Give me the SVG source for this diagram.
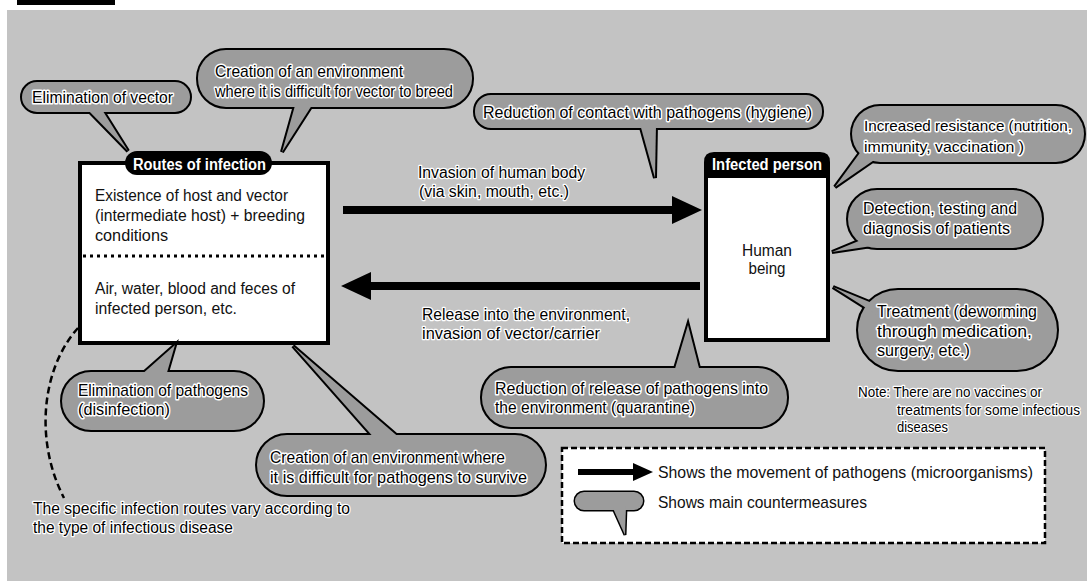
<svg xmlns="http://www.w3.org/2000/svg" xmlns:xlink="http://www.w3.org/1999/xlink" width="1087" height="581" viewBox="0 0 1087 581">
<style>
.bg{fill:#c3c3c3}
.box{fill:#fff;stroke:#000;stroke-width:4}
.hdr{fill:#000}
.ht{font-family:"Liberation Sans",Arial,sans-serif;font-weight:bold;font-size:16px;fill:#fff}
.tx{font-family:"Liberation Sans",Arial,sans-serif;font-size:16px;fill:#111}
.bt{font-family:"Liberation Sans",Arial,sans-serif;font-size:17px;fill:#000;stroke:#fff;stroke-width:3;paint-order:stroke;stroke-linejoin:round}
.gt{font-family:"Liberation Sans",Arial,sans-serif;font-size:16px;fill:#000;stroke:#fff;stroke-width:2.5;paint-order:stroke;stroke-linejoin:round}
.nt{font-family:"Liberation Sans",Arial,sans-serif;font-size:14px;fill:#000;stroke:#fff;stroke-width:2.5;paint-order:stroke;stroke-linejoin:round}
.lt{font-family:"Liberation Sans",Arial,sans-serif;font-size:17px;fill:#111}
.bo{fill:none;stroke:#000;stroke-width:4;stroke-linejoin:miter}
.bf{fill:#9c9c9c;stroke:none}
.arr{stroke:#000;stroke-width:8;fill:none}
.arrs{stroke:#000;stroke-width:6;fill:none}
.dash{fill:none;stroke:#000;stroke-width:2.5;stroke-dasharray:7 4}
.dot{stroke:#000;stroke-width:3;stroke-dasharray:3 4}
.leg{fill:#fff;stroke:#000;stroke-width:2.5;stroke-dasharray:6 3}
</style>
<defs>
<marker id="ah" viewBox="0 0 30 28" refX="1" refY="14" markerWidth="30" markerHeight="28" markerUnits="userSpaceOnUse" orient="auto"><path d="M0,0 L30,14 L0,28 z" fill="#000"/></marker>
<marker id="ahs" viewBox="0 0 20 18" refX="1" refY="9" markerWidth="20" markerHeight="18" markerUnits="userSpaceOnUse" orient="auto"><path d="M0,0 L20,9 L0,18 z" fill="#000"/></marker>
<g id="s-elimvec"><rect x="22" y="82" width="168" height="30" rx="15"/><polygon points="86,108 101,108 128,151"/></g>
<g id="s-creatvec"><rect x="198" y="50" width="274" height="57" rx="28"/><polygon points="296,102 314,102 282,152"/></g>
<g id="s-contact"><rect x="475" y="95" width="347" height="33" rx="16"/><polygon points="640,124 656,124 655,178"/></g>
<g id="s-resist"><rect x="852" y="106" width="232" height="56" rx="28"/><polygon points="862,150 880,156 835,187"/></g>
<g id="s-detect"><rect x="848" y="190" width="194" height="58" rx="29"/><polygon points="866,238 872,246 832,252"/></g>
<g id="s-treat"><rect x="858" y="290" width="199" height="80" rx="40"/><polygon points="872,303 882,318 833,287"/></g>
<g id="s-elimpath"><rect x="62" y="372" width="201" height="58" rx="29"/><polygon points="140,376 166,376 175,345"/></g>
<g id="s-creatpath"><rect x="257" y="435" width="288" height="60" rx="30"/><polygon points="376,440 402,440 293,346"/></g>
<g id="s-release"><rect x="482" y="368" width="305" height="59" rx="29"/><polygon points="674,372 700,372 688,325"/></g>
<g id="s-legend"><rect x="575" y="492" width="68" height="18" rx="9"/><polygon points="612,506 626,506 625,535"/></g>
</defs>

<rect x="0" y="0" width="1087" height="581" fill="#fff"/>
<rect class="bg" x="7" y="10" width="1080" height="571"/>
<rect x="17" y="0" width="98" height="5" fill="#000"/>

<g id="legend">
<rect class="leg" x="562" y="448" width="483" height="95"/>
<line class="arrs" x1="578" y1="472" x2="634" y2="472" marker-end="url(#ahs)"/>
<text class="lt" x="658" y="478" textLength="375" lengthAdjust="spacingAndGlyphs">Shows the movement of pathogens (microorganisms)</text>
<use xlink:href="#s-legend" class="bo" style="stroke-width:3"/>
<use xlink:href="#s-legend" class="bf"/>
<text class="lt" x="658" y="508" textLength="209" lengthAdjust="spacingAndGlyphs">Shows main countermeasures</text>
</g>

<g id="connectors">
<line class="arr" x1="343" y1="210" x2="673" y2="210" marker-end="url(#ah)"/>
<line class="arr" x1="700" y1="286" x2="370" y2="286" marker-end="url(#ah)"/>
<path class="dash" d="M78,328 C42,368 34,440 64,498"/>
<text class="gt" x="418" y="178" textLength="167" lengthAdjust="spacingAndGlyphs">Invasion of human body</text>
<text class="gt" x="419" y="197" textLength="150" lengthAdjust="spacingAndGlyphs">(via skin, mouth, etc.)</text>
<text class="gt" x="422" y="320" textLength="208" lengthAdjust="spacingAndGlyphs">Release into the environment,</text>
<text class="gt" x="422" y="339" textLength="178" lengthAdjust="spacingAndGlyphs">invasion of vector/carrier</text>
</g>

<g id="routes">
<rect class="box" x="80" y="163" width="248" height="180"/>
<line class="dot" x1="83" y1="256" x2="326" y2="256"/>
<rect class="hdr" x="125" y="151" width="147" height="24" rx="12"/>
<text class="ht" x="133" y="170" textLength="133" lengthAdjust="spacingAndGlyphs">Routes of infection</text>
<text class="tx" x="95" y="201" textLength="193" lengthAdjust="spacingAndGlyphs">Existence of host and vector</text>
<text class="tx" x="95" y="221" textLength="210" lengthAdjust="spacingAndGlyphs">(intermediate host) + breeding</text>
<text class="tx" x="95" y="241" textLength="73" lengthAdjust="spacingAndGlyphs">conditions</text>
<text class="tx" x="95" y="294" textLength="200" lengthAdjust="spacingAndGlyphs">Air, water, blood and feces of</text>
<text class="tx" x="95" y="314" textLength="142" lengthAdjust="spacingAndGlyphs">infected person, etc.</text>
</g>

<g id="infected">
<rect class="box" x="706" y="165" width="122" height="175"/>
<path class="hdr" d="M704,178 L704,162 Q704,152 714,152 L820,152 Q830,152 830,162 L830,178 z"/>
<text class="ht" x="712" y="170" textLength="110" lengthAdjust="spacingAndGlyphs">Infected person</text>
<text class="tx" x="767" y="256" text-anchor="middle" textLength="50" lengthAdjust="spacingAndGlyphs">Human</text>
<text class="tx" x="767" y="274" text-anchor="middle" textLength="37" lengthAdjust="spacingAndGlyphs">being</text>
</g>

<g id="elim-vector">
<use xlink:href="#s-elimvec" class="bo"/><use xlink:href="#s-elimvec" class="bf"/>
<text class="bt" x="32" y="103" textLength="141" lengthAdjust="spacingAndGlyphs">Elimination of vector</text>
</g>

<g id="create-vector">
<use xlink:href="#s-creatvec" class="bo"/><use xlink:href="#s-creatvec" class="bf"/>
<text class="bt" x="215" y="77" textLength="188" lengthAdjust="spacingAndGlyphs">Creation of an environment</text>
<text class="bt" x="215" y="97" textLength="238" lengthAdjust="spacingAndGlyphs">where it is difficult for vector to breed</text>
</g>

<g id="reduce-contact">
<use xlink:href="#s-contact" class="bo"/><use xlink:href="#s-contact" class="bf"/>
<text class="bt" x="483" y="118" textLength="329" lengthAdjust="spacingAndGlyphs">Reduction of contact with pathogens (hygiene)</text>
</g>

<g id="resistance">
<use xlink:href="#s-resist" class="bo"/><use xlink:href="#s-resist" class="bf"/>
<text class="bt" x="864" y="131" style="font-size:15px" textLength="208" lengthAdjust="spacingAndGlyphs">Increased resistance (nutrition,</text>
<text class="bt" x="864" y="152" style="font-size:15px" textLength="160" lengthAdjust="spacingAndGlyphs">immunity, vaccination )</text>
</g>

<g id="detection">
<use xlink:href="#s-detect" class="bo"/><use xlink:href="#s-detect" class="bf"/>
<text class="bt" x="863" y="214" textLength="154" lengthAdjust="spacingAndGlyphs">Detection, testing and</text>
<text class="bt" x="863" y="234" textLength="147" lengthAdjust="spacingAndGlyphs">diagnosis of patients</text>
</g>

<g id="treatment">
<use xlink:href="#s-treat" class="bo"/><use xlink:href="#s-treat" class="bf"/>
<text class="bt" x="877" y="317" textLength="160" lengthAdjust="spacingAndGlyphs">Treatment (deworming</text>
<text class="bt" x="877" y="337" textLength="155" lengthAdjust="spacingAndGlyphs">through medication,</text>
<text class="bt" x="877" y="356" textLength="93" lengthAdjust="spacingAndGlyphs">surgery, etc.)</text>
</g>

<g id="elim-pathogens">
<use xlink:href="#s-elimpath" class="bo"/><use xlink:href="#s-elimpath" class="bf"/>
<text class="bt" x="78" y="396" textLength="170" lengthAdjust="spacingAndGlyphs">Elimination of pathogens</text>
<text class="bt" x="78" y="415" textLength="92" lengthAdjust="spacingAndGlyphs">(disinfection)</text>
</g>

<g id="create-pathogens">
<use xlink:href="#s-creatpath" class="bo"/><use xlink:href="#s-creatpath" class="bf"/>
<text class="bt" x="270" y="463" textLength="235" lengthAdjust="spacingAndGlyphs">Creation of an environment where</text>
<text class="bt" x="270" y="483" textLength="257" lengthAdjust="spacingAndGlyphs">it is difficult for pathogens to survive</text>
</g>

<g id="reduce-release">
<use xlink:href="#s-release" class="bo"/><use xlink:href="#s-release" class="bf"/>
<text class="bt" x="495" y="394" textLength="273" lengthAdjust="spacingAndGlyphs">Reduction of release of pathogens into</text>
<text class="bt" x="495" y="413" textLength="200" lengthAdjust="spacingAndGlyphs">the environment (quarantine)</text>
</g>

<g id="note">
<text class="nt" x="858" y="397" textLength="184" lengthAdjust="spacingAndGlyphs">Note: There are no vaccines or</text>
<text class="nt" x="897" y="415" textLength="183" lengthAdjust="spacingAndGlyphs">treatments for some infectious</text>
<text class="nt" x="897" y="432" textLength="51" lengthAdjust="spacingAndGlyphs">diseases</text>
</g>

<g id="routes-note">
<text class="gt" x="33" y="514" textLength="317" lengthAdjust="spacingAndGlyphs">The specific infection routes vary according to</text>
<text class="gt" x="33" y="533" textLength="200" lengthAdjust="spacingAndGlyphs">the type of infectious disease</text>
</g>
</svg>
